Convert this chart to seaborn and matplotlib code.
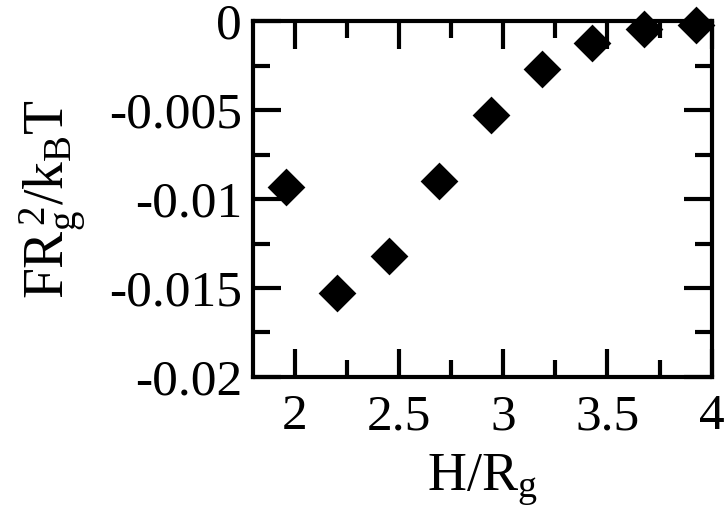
import numpy as np
import matplotlib
matplotlib.use("Agg")
import matplotlib.pyplot as plt
import seaborn as sns
from matplotlib.ticker import MultipleLocator

# values
h_over_rg = [1.96, 2.205, 2.452, 2.694, 2.94, 3.186, 3.428, 3.675, 3.923]
force = [-0.0093, -0.0153, -0.01318, -0.0090, -0.00528, -0.0027, -0.00122, -0.00045, -0.00022]

x_ticks = [2, 2.5, 3, 3.5, 4]
y_ticks = [-0.02, -0.015, -0.01, -0.005, 0]
y_tick_labels = ["-0.02", "-0.015", "-0.01", "-0.005", "0"]

sns.set_style("ticks")
plt.rcParams['font.family'] = ['Liberation Serif', 'DejaVu Serif']
plt.rcParams['mathtext.fontset'] = 'custom'
plt.rcParams['mathtext.rm'] = 'Liberation Serif'
plt.rcParams['mathtext.it'] = 'Liberation Serif'
for key in ['text.color', 'axes.labelcolor', 'xtick.color', 'ytick.color', 'axes.edgecolor']:
    plt.rcParams[key] = 'black'

fig = plt.figure(figsize=(7.27, 5.17), dpi=100)
ax = fig.add_axes([0.348, 0.271, 0.631, 0.688])

sns.scatterplot(x=h_over_rg, y=force, marker="D", color="black", s=370,
                edgecolor="black", linewidth=0, ax=ax, clip_on=False, zorder=5)

ax.set_xlim(1.8, 4.0)
ax.set_ylim(-0.02, 0.0)
ax.set_xticks(x_ticks)
ax.set_xticklabels([f"{t:g}" for t in x_ticks])
ax.set_yticks(y_ticks)
ax.set_yticklabels(y_tick_labels)
ax.xaxis.set_minor_locator(MultipleLocator(0.25))
ax.yaxis.set_minor_locator(MultipleLocator(0.0025))

ax.tick_params(which="both", direction="in", top=True, right=True, width=3, labelsize=37)
ax.tick_params(axis="x", pad=12)
ax.tick_params(axis="y", pad=8)
ax.tick_params(which="major", length=20)
ax.tick_params(which="minor", length=12)
for sp in ax.spines.values():
    sp.set_linewidth(3)

ax.set_xlabel(r"H/R$_\mathrm{g}$", fontsize=39, labelpad=9)
ax.set_ylabel(r"FR$_\mathrm{g}^{\,2}$/k$_\mathrm{B}$T", fontsize=40, labelpad=14)

fig.savefig("out.png", dpi=100)
